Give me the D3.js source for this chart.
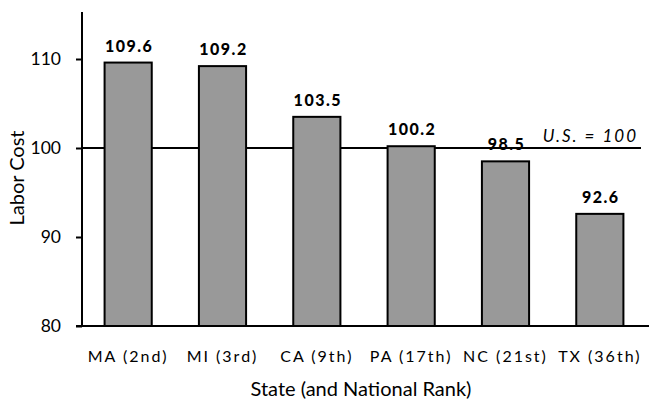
<!DOCTYPE html>
<html>
<head>
<meta charset="utf-8">
<script src="https://cdn.jsdelivr.net/npm/d3@7"></script>
<style>
  html, body { margin: 0; padding: 0; background: #fff; }
  svg { display: block; }
  text { font-family: "Lato", "Open Sans", sans-serif; fill: #000; }
</style>
</head>
<body>
<svg id="chart" width="649" height="401"></svg>
<script>
// Labor cost index by state, U.S. = 100
const states = ["MA (2nd)", "MI (3rd)", "CA (9th)", "PA (17th)", "NC (21st)", "TX (36th)"];
const laborCost = [109.6, 109.2, 103.5, 100.2, 98.5, 92.6];
const yTicks = [80, 90, 100, 110];
const usBaseline = 100;

const svg = d3.select("#chart");
const yBottom = 326, yTop = 14.5;
const xLeft = 82, xRight = 647;

const x = d3.scaleBand()
  .domain(states)
  .range([xLeft - 1, xRight])
  .paddingInner(0.5)
  .paddingOuter(0.25);

const y = d3.scaleLinear()
  .domain([80, 115])
  .range([yBottom, yTop]);

// U.S. reference line (behind the bars)
svg.append("line")
  .attr("x1", xLeft).attr("x2", 641)
  .attr("y1", y(usBaseline)).attr("y2", y(usBaseline))
  .attr("stroke", "#000").attr("stroke-width", 2);

svg.append("text")
  .attr("x", 638).attr("y", y(usBaseline) - 6)
  .attr("text-anchor", "end")
  .style("font-style", "italic")
  .style("font-size", "17px")
  .style("letter-spacing", "2px")
  .text("U.S. = 100");

const rows = states.map((s, i) => ({ state: s, value: laborCost[i] }));

// Bars
svg.append("g").selectAll("rect")
  .data(rows)
  .join("rect")
  .attr("x", d => x(d.state))
  .attr("width", x.bandwidth())
  .attr("y", d => y(d.value))
  .attr("height", d => y(80) - y(d.value))
  .attr("fill", "#999999")
  .attr("stroke", "#000")
  .attr("stroke-width", 2);

// Value labels
svg.append("g").selectAll("text")
  .data(rows)
  .join("text")
  .attr("x", d => x(d.state) + x.bandwidth() / 2 + 1)
  .attr("y", d => y(d.value) - 11)
  .attr("text-anchor", "middle")
  .style("font-weight", "900")
  .style("font-size", "16px")
  .style("letter-spacing", "1.5px")
  .text(d => d.value.toFixed(1));

// Y axis
const yAxis = svg.append("g")
  .attr("transform", `translate(${xLeft},0)`)
  .call(d3.axisLeft(y).tickValues(yTicks).tickSize(6).tickPadding(15).tickFormat(d3.format("d")));
yAxis.select(".domain").remove();
yAxis.selectAll(".tick line").attr("stroke", "#000").attr("stroke-width", 2);
yAxis.selectAll(".tick text").style("font-size", "17.5px").style("font-family", "Lato, sans-serif");
yAxis.append("line")
  .attr("x1", 0).attr("x2", 0)
  .attr("y1", 12).attr("y2", yBottom)
  .attr("stroke", "#000").attr("stroke-width", 2);

// X axis
const xAxis = svg.append("g")
  .attr("transform", `translate(0,${yBottom})`)
  .call(d3.axisBottom(x).tickSize(0).tickPadding(25));
xAxis.select(".domain").remove();
xAxis.selectAll(".tick text")
  .style("font-size", "16px")
  .style("letter-spacing", "2px")
  .style("font-family", "Lato, sans-serif");
xAxis.append("line")
  .attr("x1", xLeft - 6).attr("x2", 649)
  .attr("y1", 0).attr("y2", 0)
  .attr("stroke", "#000").attr("stroke-width", 2);

// Axis titles
svg.append("text")
  .attr("x", 361).attr("y", 396)
  .attr("text-anchor", "middle")
  .style("font-size", "20px")
  .text("State (and National Rank)");

svg.append("text")
  .attr("transform", "translate(24,178) rotate(-90)")
  .attr("text-anchor", "middle")
  .style("font-size", "20px")
  .text("Labor Cost");
</script>
</body>
</html>
